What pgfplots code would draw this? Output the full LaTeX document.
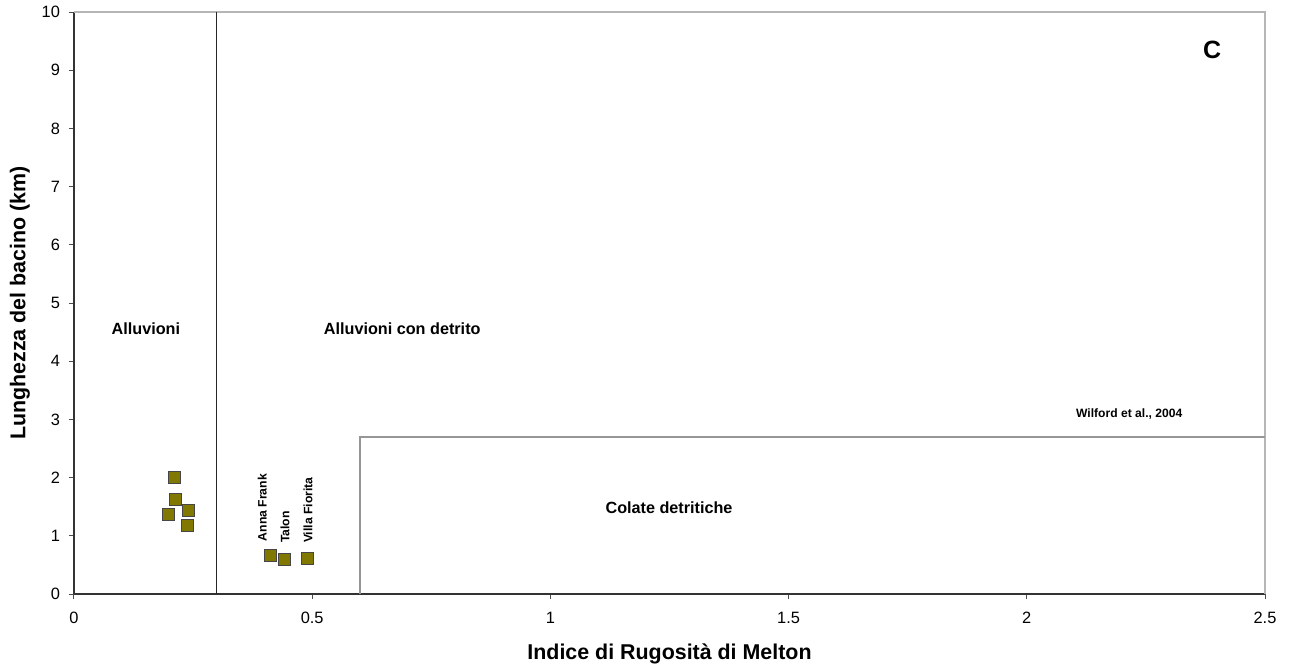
\documentclass[border=0pt]{standalone}
\usepackage{pgfplots}
\pgfplotsset{compat=1.18}
\usepackage{fontspec}
\setmainfont{Liberation Sans}
\definecolor{olivefill}{RGB}{128,120,0}
\definecolor{markedge}{RGB}{70,70,70}
\definecolor{boxgray}{RGB}{150,150,150}
\begin{document}
\begin{tikzpicture}
\useasboundingbox (-37pt,-36pt) rectangle (608pt,297pt);
\begin{axis}[
  scale only axis,
  width=595.5pt, height=291pt,
  xmin=0, xmax=2.5, ymin=0, ymax=10,
  axis lines*=left,
  axis line style={black!80, line width=0.6pt},
  xtick={0,0.5,1,1.5,2,2.5},
  xticklabels={0,0.5,1,1.5,2,2.5},
  ytick={0,1,...,10},
  tick align=outside,
  major tick length=2.5pt,
  tick style={black!70, line width=0.5pt},
  /pgf/number format/assume math mode=true,
  tick label style={font=\fontsize{8.2}{10}\selectfont},
  xticklabel style={yshift=-3pt},
  yticklabel style={xshift=-1pt},
  xlabel={\textbf{Indice di Rugosità di Melton}},
  ylabel={\textbf{Lunghezza del bacino (km)}},
  label style={font=\fontsize{10.7}{12}\selectfont},
  xlabel style={yshift=-3pt},
  ylabel style={yshift=-1pt},
  clip=false,
]
% light frame on top and right
\addplot[boxgray!70, line width=0.6pt] coordinates {(0,10) (2.5,10) (2.5,0)};
% threshold between alluvial and mixed fans
\addplot[black!85, line width=0.45pt] coordinates {(0.3,0) (0.3,10)};
% debris-flow field
\addplot[boxgray, line width=0.7pt] coordinates {(0.6,0) (0.6,2.7) (2.5,2.7)};
% basins
\addplot[only marks, mark=square*, mark size=3pt,
  mark options={fill=olivefill, draw=markedge, line width=0.5pt}]
  coordinates {
  (0.212,2.00) (0.214,1.63) (0.241,1.44) (0.199,1.36) (0.238,1.17)
  (0.412,0.66) (0.441,0.60) (0.491,0.61)
  };
\node[font=\fontsize{8.1}{9}\selectfont\bfseries] at (axis cs:0.151,4.55) {Alluvioni};
\node[font=\fontsize{8.1}{9}\selectfont\bfseries] at (axis cs:0.689,4.55) {Alluvioni con detrito};
\node[font=\fontsize{8.1}{9}\selectfont\bfseries] at (axis cs:1.249,1.49) {Colate detritiche};
\node[font=\fontsize{6.05}{7}\selectfont\bfseries] at (axis cs:2.215,3.09) {Wilford et al., 2004};
\node[font=\fontsize{12.5}{14}\selectfont\bfseries] at (axis cs:2.389,9.35) {C};
\node[font=\fontsize{6.1}{7}\selectfont\bfseries, rotate=90, anchor=west, inner sep=0pt] at (axis cs:0.395,0.90) {Anna Frank};
\node[font=\fontsize{6.1}{7}\selectfont\bfseries, rotate=90, anchor=west, inner sep=0pt] at (axis cs:0.443,0.87) {Talon};
\node[font=\fontsize{6.1}{7}\selectfont\bfseries, rotate=90, anchor=west, inner sep=0pt] at (axis cs:0.491,0.87) {Villa Fiorita};
\end{axis}
\end{tikzpicture}
\end{document}
